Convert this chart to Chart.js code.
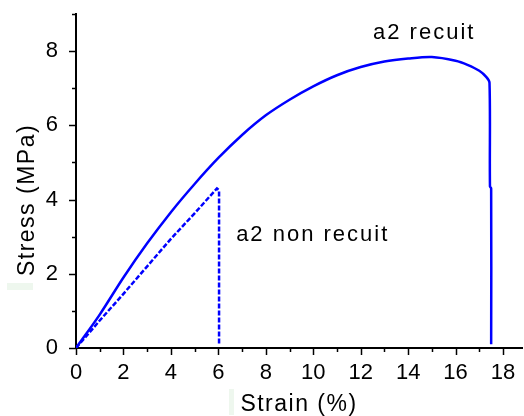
<!DOCTYPE html>
<html>
<head>
<meta charset="utf-8">
<script src="https://cdn.jsdelivr.net/npm/chart.js@4"></script>
<style>
  html, body { margin: 0; padding: 0; background: #fff; }
  #wrap { width: 524px; height: 416px; }
</style>
</head>
<body>
<div id="wrap"><canvas id="stressChart"></canvas></div>
<script>
  // a2 recuit (solid)
  const recuitStrain = [0, 1, 2, 3, 4, 5, 6, 7, 8, 9, 10, 11, 12, 13, 14, 15, 16, 16.5, 17, 17.3, 17.43, 17.45, 17.5, 17.5];
  const recuitStress = [0, 0.9, 1.9, 2.82, 3.66, 4.42, 5.12, 5.74, 6.27, 6.69, 7.05, 7.35, 7.57, 7.72, 7.8, 7.84, 7.74, 7.63, 7.47, 7.3, 7.15, 4.35, 4.3, 0.1];

  // a2 non recuit (dashed)
  const nonRecuitStrain = [0, 1, 2, 3, 4, 5, 5.94, 6.03, 6.03];
  const nonRecuitStress = [0, 0.74, 1.46, 2.2, 2.94, 3.63, 4.3, 4.25, 0.12];

  const labelRecuit = 'a2 recuit';
  const labelNonRecuit = 'a2 non recuit';
  const xTitle = 'Strain (%)';
  const yTitle = 'Stress (MPa)';

  const toPoints = (xs, ys) => xs.map((x, i) => ({ x: x, y: ys[i] }));

  const FONT = '"Liberation Sans", Arial, sans-serif';

  // minor / major ticks, titles, curve labels
  const decorPlugin = {
    id: 'decor',
    afterDraw(chart) {
      const ctx = chart.ctx;
      const xs = chart.scales.x, ys = chart.scales.y;
      const area = chart.chartArea;
      ctx.save();
      ctx.strokeStyle = '#000';
      ctx.lineWidth = 1.5;
      xs.ticks.forEach(t => {
        const px = Math.round(xs.getPixelForValue(t.value)) + 0.5;
        const len = t.value % 2 === 0 ? 7 : 4;
        ctx.beginPath();
        ctx.moveTo(px, area.bottom);
        ctx.lineTo(px, area.bottom + len);
        ctx.stroke();
      });
      ys.ticks.forEach(t => {
        const py = Math.round(ys.getPixelForValue(t.value)) + 0.5;
        const len = t.value % 2 === 0 ? 7 : 4;
        ctx.beginPath();
        ctx.moveTo(area.left, py);
        ctx.lineTo(area.left - len, py);
        ctx.stroke();
      });

      // pale marks near titles
      ctx.fillStyle = '#eef7ee';
      ctx.fillRect(7, 283, 26, 7);
      ctx.fillRect(229, 389, 5, 26);

      ctx.fillStyle = '#000';
      ctx.font = '23px ' + FONT;
      ctx.letterSpacing = '1.5px';
      ctx.textAlign = 'center';
      ctx.textBaseline = 'alphabetic';
      ctx.fillText(xTitle, (area.left + area.right) / 2, 411);
      ctx.save();
      ctx.translate(34, 200);
      ctx.rotate(-Math.PI / 2);
      ctx.fillText(yTitle, 0, 0);
      ctx.restore();

      ctx.font = '22px ' + FONT;
      ctx.letterSpacing = '2px';
      ctx.textAlign = 'left';
      ctx.fillText(labelRecuit, xs.getPixelForValue(12.52), ys.getPixelForValue(8.33));
      ctx.fillText(labelNonRecuit, xs.getPixelForValue(6.75), ys.getPixelForValue(2.88));
      ctx.restore();
    }
  };

  const ctx = document.getElementById('stressChart').getContext('2d');
  const stressChart = new Chart(ctx, {
    type: 'line',
    data: {
      datasets: [{
        label: labelRecuit,
        data: toPoints(recuitStrain, recuitStress),
        borderColor: '#0000ff',
        borderWidth: 2.5,
        pointRadius: 0,
        tension: 0.3,
        fill: false
      },
      {
        label: labelNonRecuit,
        data: toPoints(nonRecuitStrain, nonRecuitStress),
        borderColor: '#0000ff',
        borderWidth: 2.5,
        borderDash: [5, 2],
        pointRadius: 0,
        tension: 0,
        fill: false
      }]
    },
    options: {
      responsive: true,
      maintainAspectRatio: false,
      animation: false,
      layout: { padding: { left: 0, top: 14, right: 2, bottom: 0 } },
      plugins: {
        legend: { display: false },
        tooltip: { enabled: false }
      },
      scales: {
        x: {
          type: 'linear',
          min: 0,
          max: 18.8,
          grid: { display: false },
          border: { display: true, color: '#000', width: 2 },
          afterFit: s => { s.height = 68; s.paddingLeft = 0; s.paddingRight = 0; },
          afterBuildTicks: s => {
            s.ticks = [];
            for (let v = 0; v <= 18; v++) s.ticks.push({ value: v });
          },
          ticks: {
            color: '#000',
            padding: 4,
            maxRotation: 0,
            autoSkip: false,
            font: { family: FONT, size: 22 },
            callback: v => (v % 2 === 0 ? String(v) : '')
          }
        },
        y: {
          type: 'linear',
          min: 0,
          max: 9,
          grid: { display: false },
          border: { display: true, color: '#000', width: 2 },
          afterFit: s => { s.width = 76; s.paddingTop = 0; s.paddingBottom = 0; },
          afterBuildTicks: s => {
            s.ticks = [];
            for (let v = 0; v <= 9; v++) s.ticks.push({ value: v });
          },
          ticks: {
            color: '#000',
            padding: 10,
            autoSkip: false,
            font: { family: FONT, size: 22 },
            callback: v => (v % 2 === 0 ? String(v) : '')
          }
        }
      }
    },
    plugins: [decorPlugin]
  });
</script>
</body>
</html>
